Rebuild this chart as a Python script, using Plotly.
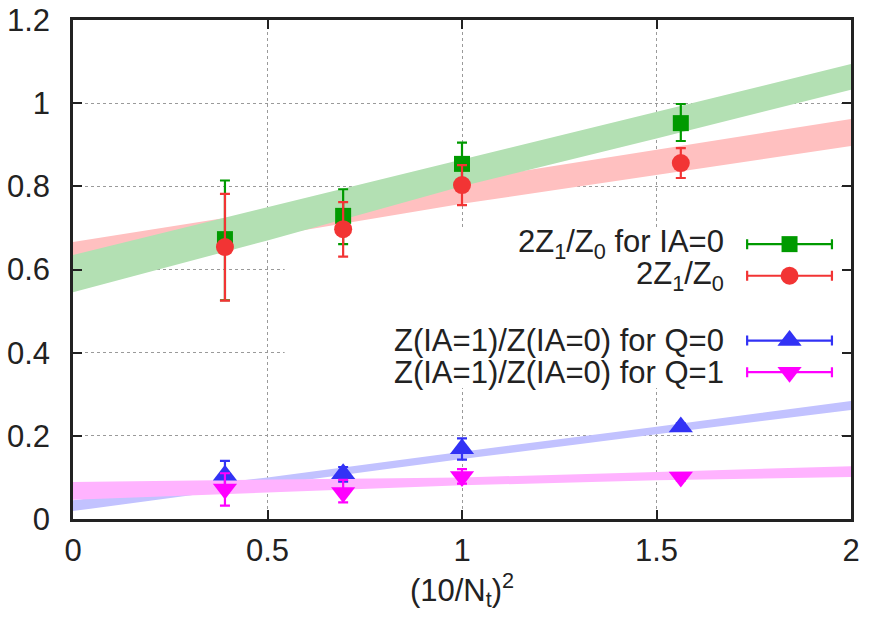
import plotly.graph_objects as go

# ---- data ----
x_pts = [0.390625, 0.694444, 1.0, 1.5625]

ia0_y = [0.673, 0.729, 0.854, 0.952]
ia0_up = [0.814, 0.793, 0.905, 0.998]
ia0_lo = [0.526, 0.661, 0.803, 0.909]

z10_y = [0.654, 0.697, 0.803, 0.856]
z10_up = [0.782, 0.762, 0.851, 0.892]
z10_lo = [0.525, 0.631, 0.755, 0.820]

q0_y = [0.105, 0.109, 0.169, 0.221]
q0_up = [0.140, 0.125, 0.194, 0.230]
q0_lo = [0.070, 0.090, 0.143, 0.212]

q1_y = [0.072, 0.064, 0.102, 0.101]
q1_up = [0.110, 0.094, 0.120, 0.109]
q1_lo = [0.032, 0.040, 0.085, 0.093]

band_x = [0.0, 0.5, 1.0, 1.5, 2.0]
green_band_up = [0.635, 0.750, 0.865, 0.980, 1.094]
green_band_lo = [0.545, 0.670, 0.800, 0.915, 1.032]
red_band_up = [0.666, 0.740, 0.814, 0.888, 0.962]
red_band_lo = [0.612, 0.680, 0.758, 0.828, 0.897]
blue_band_up = [0.045, 0.100, 0.162, 0.222, 0.284]
blue_band_lo = [0.019, 0.082, 0.144, 0.204, 0.262]
pink_band_up = [0.089, 0.094, 0.100, 0.113, 0.127]
pink_band_lo = [0.046, 0.064, 0.081, 0.093, 0.101]

labels = ["2Z<sub>1</sub>/Z<sub>0</sub> for IA=0",
          "2Z<sub>1</sub>/Z<sub>0</sub>",
          "Z(IA=1)/Z(IA=0) for Q=0",
          "Z(IA=1)/Z(IA=0) for Q=1"]
legend_y = [0.661, 0.585, 0.429, 0.353]
legend_x = 1.842
legend_half = 0.109
legend_text_x = 1.678

GREEN = "#009a00"
RED = "#f23434"
BLUE = "#3232f5"
MAGENTA = "#ff00ff"
FONT = "Liberation Sans"
FS = 31
TXT = "#222222"

fig = go.Figure()


def band(xs, up, lo, color):
    fig.add_trace(go.Scatter(
        x=xs + xs[::-1], y=up + lo[::-1], fill="toself", fillcolor=color,
        line=dict(width=0), mode="lines", hoverinfo="skip", showlegend=False))


band(band_x, red_band_up, red_band_lo, "#ffc0c0")
band(band_x, green_band_up, green_band_lo, "#b3e0b3")
band(band_x, blue_band_up, blue_band_lo, "#c2c2ff")
band(band_x, pink_band_up, pink_band_lo, "#ffb3ff")


def pts(y, up, lo, color, symbol, size):
    fig.add_trace(go.Scatter(
        x=x_pts, y=y, mode="markers",
        marker=dict(symbol=symbol, size=size, color=color, line=dict(width=0)),
        error_y=dict(type="data", symmetric=False,
                     array=[u - v for u, v in zip(up, y)],
                     arrayminus=[v - l for v, l in zip(y, lo)],
                     color=color, thickness=2.2, width=5),
        showlegend=False))


pts(ia0_y, ia0_up, ia0_lo, GREEN, "square", 16)
pts(z10_y, z10_up, z10_lo, RED, "circle", 18)
pts(q0_y, q0_up, q0_lo, BLUE, "triangle-up", 21)
pts(q1_y, q1_up, q1_lo, MAGENTA, "triangle-down", 21)

# legend samples (gnuplot style: text on left, sample with error bar on right)
leg_colors = [GREEN, RED, BLUE, MAGENTA]
leg_symbols = ["square", "circle", "triangle-up", "triangle-down"]
leg_sizes = [16, 18, 21, 21]
for lab, ly, c, s, sz in zip(labels, legend_y, leg_colors, leg_symbols, leg_sizes):
    fig.add_trace(go.Scatter(
        x=[legend_x], y=[ly], mode="markers",
        marker=dict(symbol=s, size=sz, color=c),
        error_x=dict(type="data", array=[legend_half], color=c, thickness=2.2, width=5),
        showlegend=False, hoverinfo="skip"))
    fig.add_annotation(x=legend_text_x, y=ly, text=lab, showarrow=False,
                       xanchor="right", yanchor="middle",
                       font=dict(family=FONT, size=FS, color=TXT))

# opaque legend box (hides grid lines)
fig.add_shape(type="rect", x0=0.544, x1=2.0, y0=0.315, y1=0.697,
              fillcolor="white", line=dict(width=0), layer="between")

axis_common = dict(
    showline=True, linewidth=2.5, linecolor="#222222", mirror="ticks",
    ticks="inside", ticklen=9, tickwidth=1.5, tickcolor="#222222",
    showgrid=True, gridcolor="#9a9a9a", gridwidth=1, griddash="dot",
    zeroline=False, automargin=False,
    tickfont=dict(family=FONT, size=FS, color=TXT),
)

fig.update_xaxes(range=[0, 2], dtick=0.5, tick0=0, ticklabelstandoff=2,
                 title=dict(text="(10/N<sub>t</sub>)<sup>2</sup>",
                            font=dict(family=FONT, size=FS, color=TXT), standoff=0),
                 **axis_common)
fig.update_yaxes(range=[0, 1.2], dtick=0.2, tick0=0, ticklabelstandoff=14,
                 **axis_common)

fig.update_layout(
    width=869, height=621,
    margin=dict(l=73, r=18, t=20, b=102),
    plot_bgcolor="white", paper_bgcolor="white",
    showlegend=False,
)

fig.write_html("out.html")
